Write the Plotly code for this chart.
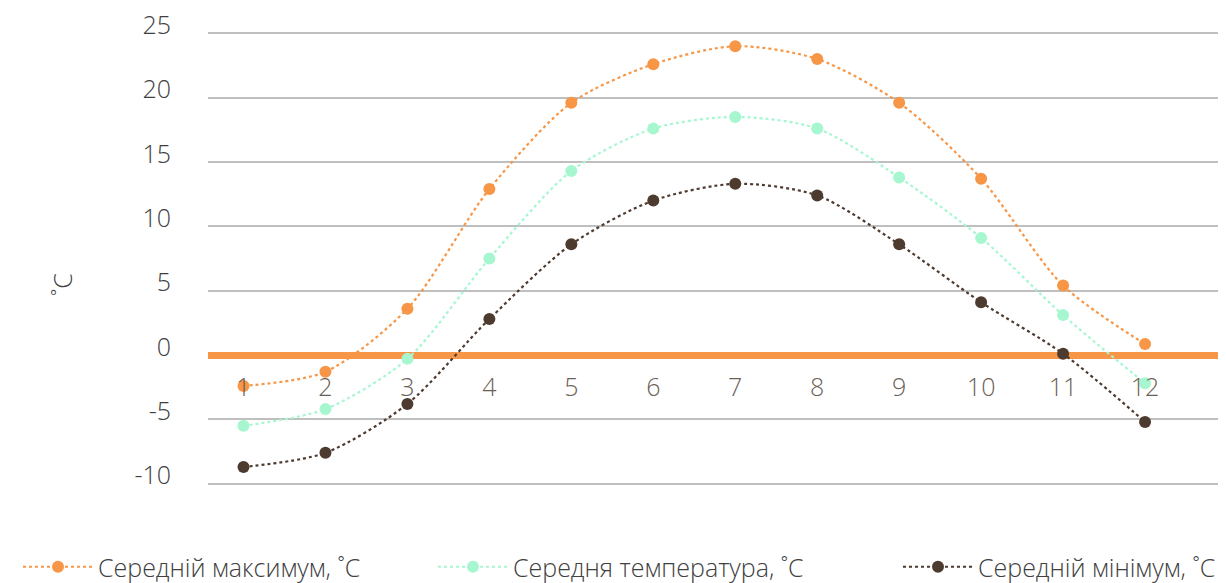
import plotly.graph_objects as go

months = [1, 2, 3, 4, 5, 6, 7, 8, 9, 10, 11, 12]
month_labels = [str(m) for m in months]
avg_max = [-2.4, -1.3, 3.6, 12.9, 19.6, 22.6, 24.0, 23.0, 19.6, 13.7, 5.4, 0.85]
avg_temp = [-5.5, -4.2, -0.3, 7.5, 14.3, 17.6, 18.5, 17.6, 13.8, 9.1, 3.1, -2.2]
avg_min = [-8.7, -7.6, -3.8, 2.8, 8.6, 12.0, 13.3, 12.4, 8.6, 4.1, 0.1, -5.2]
series_names = ["Середній максимум, ˚C", "Середня температура, ˚C", "Середній мінімум, ˚C"]
y_ticks = [-10, -5, 0, 5, 10, 15, 20, 25]
y_tick_labels = [str(v) for v in y_ticks]
y_title = "˚C"

colors = ["#F79646", "#A6F7D0", "#4E3B30"]
legend_ids = ["legend", "legend2", "legend3"]
legend_x_px = [18, 433, 898]
FONT = "Open Sans"
W, H = 1226, 583

fig = go.Figure()
for name, vals, col, lg in zip(series_names, [avg_max, avg_temp, avg_min], colors, legend_ids):
    fig.add_trace(go.Scatter(
        x=months, y=vals, name=name, mode="lines+markers", legend=lg,
        line=dict(color=col, width=2.2, dash="dot", shape="spline", smoothing=0.8),
        marker=dict(color=col, size=12),
    ))

Y0, Y1 = -11.5, 26.5
zero_pos = (0 - Y0) / (Y1 - Y0)

legend_font = dict(family=FONT, size=25, color="#404040", weight=300)
legends = {}
for lg, px in zip(legend_ids, legend_x_px):
    legends[lg] = dict(orientation="h", xref="container", yref="container",
                       x=px / W, y=1 - 567 / H, xanchor="left", yanchor="middle",
                       itemwidth=70, bgcolor="rgba(0,0,0,0)", font=legend_font)

fig.update_layout(
    width=W, height=H,
    margin=dict(l=208, r=8, t=14, b=80, autoexpand=False),
    paper_bgcolor="white", plot_bgcolor="white",
    font=dict(family=FONT, size=25, color="#404040", weight=300),
    showlegend=True,
    **legends,
    xaxis=dict(range=[0.567, 12.89], tickvals=months, ticktext=month_labels,
               showgrid=False, zeroline=False, showline=False, ticks="",
               anchor="free", position=zero_pos, ticklabelstandoff=15,
               tickfont=dict(family=FONT, size=25, color="#6B5F57", weight=300)),
    yaxis=dict(range=[Y0, Y1], tickvals=y_ticks, ticktext=y_tick_labels, showgrid=True,
               gridcolor="#BFBFBF", gridwidth=2,
               zeroline=True, zerolinecolor="#F79646", zerolinewidth=7,
               showline=False, ticks="", ticklabelstandoff=36, ticklabelshift=-8,
               tickfont=dict(family=FONT, size=25, color="#404040", weight=300)),
    annotations=[dict(text=y_title, xref="paper", yref="paper",
                      x=(62 - 208) / 1010, y=(503.3 - 285) / 489.6,
                      xanchor="center", yanchor="middle",
                      textangle=-90, showarrow=False,
                      font=dict(family=FONT, size=25, color="#404040", weight=300))],
)

fig.write_html("out.html", config={"displayModeBar": False},
               post_script="document.body.style.margin='0';")
